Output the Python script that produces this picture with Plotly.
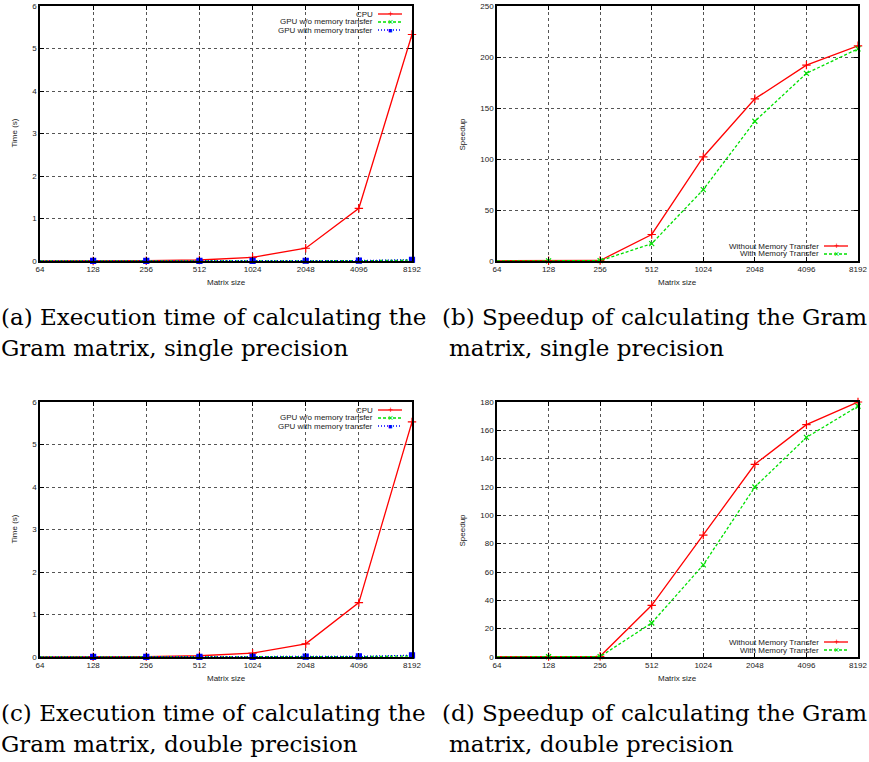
import math
import plotly.graph_objects as go

W, H = 869, 762

sizes = [64, 128, 256, 512, 1024, 2048, 4096, 8192]
tick_labels = [str(s) for s in sizes]

# (a) single precision execution time (s)
cpu_single = [0.0004, 0.001, 0.006, 0.024, 0.087, 0.30, 1.24, 5.33]
gpu_nomem_single = [0.0001, 0.0001, 0.0002, 0.0005, 0.001, 0.002, 0.006, 0.02]
gpu_mem_single = [0.0005, 0.0006, 0.001, 0.002, 0.003, 0.006, 0.01, 0.03]
# (b) single precision speedup
speed_nomem_single = [0.2, 0.3, 0.5, 26, 102, 159, 192, 211]
speed_mem_single = [0.1, 0.2, 0.3, 17, 70, 137, 184, 208]
# (c) double precision execution time (s)
cpu_double = [0.0005, 0.002, 0.008, 0.03, 0.09, 0.31, 1.28, 5.53]
gpu_nomem_double = [0.0001, 0.0001, 0.0002, 0.0006, 0.001, 0.003, 0.008, 0.025]
gpu_mem_double = [0.0005, 0.0007, 0.001, 0.002, 0.004, 0.008, 0.015, 0.04]
# (d) double precision speedup
speed_nomem_double = [0.2, 0.3, 0.5, 36.5, 86, 136, 164, 180]
speed_mem_double = [0.1, 0.2, 0.3, 24, 65, 120, 155, 177]

time_names = ["CPU", "GPU w/o memory transfer", "GPU with memory transfer"]
speed_names = ["Without Memory Transfer", "With Memory Transfer"]
captions = [
    ["(a) Execution time of calculating the", "Gram matrix, single precision"],
    ["(b) Speedup of calculating the Gram", "matrix, single precision"],
    ["(c) Execution time of calculating the", "Gram matrix, double precision"],
    ["(d) Speedup of calculating the Gram", "matrix, double precision"],
]

RED, GREEN, BLUE = "#ff0000", "#00e000", "#0000ff"
TXT = "#222222"
SANS = "Liberation Sans, Arial, sans-serif"
SERIF = "DejaVu Serif, serif"


def px(x):
    return x / W


def py(y):
    return 1 - y / H


fig = go.Figure()

# panel geometry in pixels: (left, right, top, bottom)
panels = [
    (40, 412, 6, 261),
    (497, 858, 6, 261),
    (40, 412, 402, 657),
    (497, 858, 402, 657),
]
yranges = [(0, 6, 1), (0, 250, 50), (0, 6, 1), (0, 180, 20)]

series = [
    [(time_names[0], cpu_single, RED, "solid", "cross-thin-open", 6),
     (time_names[1], gpu_nomem_single, GREEN, "3px,2px", "x-thin-open", 5),
     (time_names[2], gpu_mem_single, BLUE, "1px,2px", "square", 5)],
    [(speed_names[0], speed_nomem_single, RED, "solid", "cross-thin-open", 6),
     (speed_names[1], speed_mem_single, GREEN, "3px,2px", "x-thin-open", 5)],
    [(time_names[0], cpu_double, RED, "solid", "cross-thin-open", 6),
     (time_names[1], gpu_nomem_double, GREEN, "3px,2px", "x-thin-open", 5),
     (time_names[2], gpu_mem_double, BLUE, "1px,2px", "square", 5)],
    [(speed_names[0], speed_nomem_double, RED, "solid", "cross-thin-open", 6),
     (speed_names[1], speed_mem_double, GREEN, "3px,2px", "x-thin-open", 5)],
]


def note(x, y, text, size, color=TXT, family=SANS, xanchor="center", angle=0):
    fig.add_annotation(x=px(x), y=py(y), xref="paper", yref="paper", text=text,
                       showarrow=False, xanchor=xanchor, yanchor="middle",
                       textangle=angle, borderpad=0,
                       font=dict(family=family, size=size, color=color))


for i, (l, r, t, b) in enumerate(panels):
    n = "" if i == 0 else str(i + 1)
    for name, vals, col, dash, sym, ms in series[i]:
        fig.add_trace(go.Scatter(
            x=sizes, y=vals, mode="lines+markers", name=name,
            xaxis="x" + n, yaxis="y" + n, showlegend=False,
            line=dict(color=col, width=1.3, dash=dash),
            marker=dict(symbol=sym, size=ms, color=col,
                        line=dict(color=col, width=1.2)),
            cliponaxis=False,
        ))
    y0, y1, dt = yranges[i]
    common = dict(showline=True, mirror="allticks", linecolor="black", linewidth=1.5,
                  ticks="inside", ticklen=4, tickcolor="black", automargin=False,
                  showgrid=True, gridcolor="#555555", gridwidth=1, griddash="dot",
                  zeroline=False, tickfont=dict(family=SANS, size=8, color=TXT))
    fig.update_layout(**{
        "xaxis" + n: dict(domain=[px(l), px(r)], anchor="y" + n, type="log",
                          range=[math.log10(sizes[0]), math.log10(sizes[-1])],
                          tickvals=sizes, ticktext=tick_labels, **common),
        "yaxis" + n: dict(domain=[py(b), py(t)], anchor="x" + n,
                          range=[y0, y1], dtick=dt, tick0=0, **common),
    })

    # axis titles
    note((l + r) / 2, b + 21, "Matrix size", 8)
    if i in (0, 2):
        note(l - 26, (t + b) / 2, "Time (s)", 8, angle=-90)
    else:
        note(l - 35, (t + b) / 2, "Speedup", 8, angle=-90)

    # gnuplot-style key
    entries = series[i]
    rows = [t + 8, t + 16, t + 24] if i in (0, 2) else [b - 15, b - 7]
    text_right = r - 38
    for (name, vals, col, dash, sym, ms), ry in zip(entries, rows):
        note(text_right, ry, name, 8, xanchor="right")
        fig.add_shape(type="line", xref="paper", yref="paper",
                      x0=px(r - 34), x1=px(r - 10), y0=py(ry), y1=py(ry),
                      line=dict(color=col, width=1.3, dash=dash))
        mark = {"cross-thin-open": "+", "x-thin-open": "×", "square": "■"}[sym]
        note(r - 22, ry, mark, 7 if sym == "square" else 9, color=col)

# captions
cap_pos = [(0, 317), (441, 317), (0, 713), (441, 713)]
for (cx, cy), lines in zip(cap_pos, captions):
    for k, line in enumerate(lines):
        xoff = cx + (0 if cx == 0 else (0 if k == 0 else 7))
        note(xoff, cy + 31 * k, line, 23, color="black", family=SERIF, xanchor="left")

fig.update_layout(width=W, height=H, margin=dict(l=0, r=0, t=0, b=0, autoexpand=False),
                  paper_bgcolor="white", plot_bgcolor="white", showlegend=False)

fig.write_html("out.html", config={"displayModeBar": False},
               post_script="document.body.style.margin='0';")
